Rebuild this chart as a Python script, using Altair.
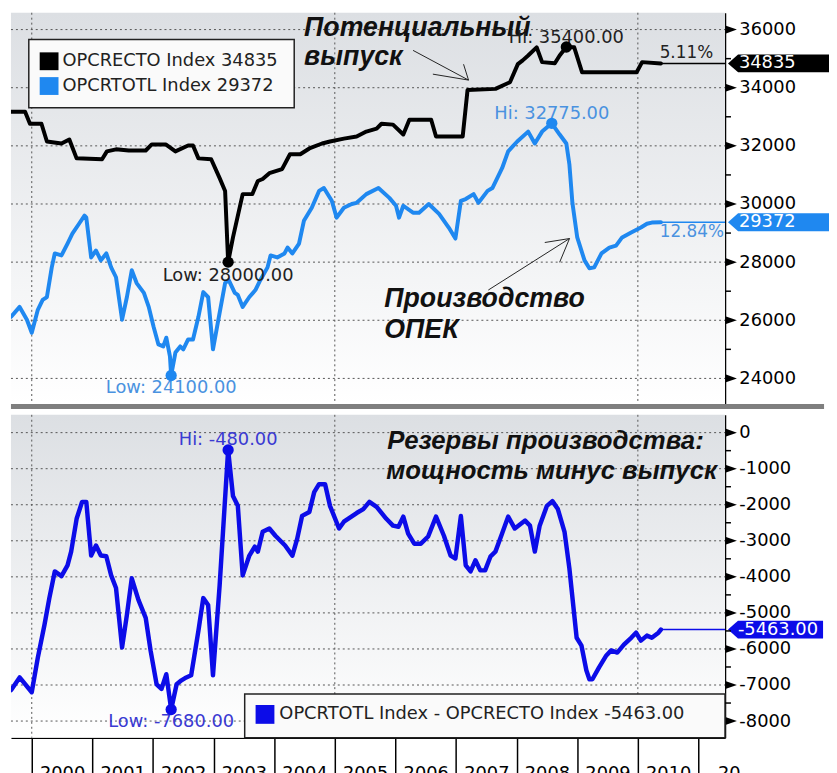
import altair as alt
import pandas as pd

# ---------------- data ----------------
cap_years = [
    1999.66, 1999.89, 1999.97, 2000.16, 2000.25, 2000.49, 2000.62, 2000.74, 2001.16, 2001.24,
    2001.39, 2001.60, 2001.88, 2001.98, 2002.21, 2002.37, 2002.58, 2002.66, 2002.75, 2002.96,
    2003.10, 2003.19, 2003.24, 2003.32, 2003.48, 2003.64, 2003.73, 2003.81, 2003.92, 2004.13,
    2004.26, 2004.43, 2004.58, 2004.79, 2004.92, 2005.15, 2005.36, 2005.52, 2005.69, 2005.77,
    2005.96, 2006.13, 2006.23, 2006.59, 2006.67, 2007.11, 2007.19, 2007.65, 2007.89, 2008.02,
    2008.10, 2008.19, 2008.33, 2008.42, 2008.63, 2008.71, 2008.82, 2008.95, 2009.08, 2009.98,
    2010.07, 2010.38]
cap_values = [
    33170, 33170, 32760, 32760, 32150, 32080, 32220, 31570, 31540, 31810,
    31880, 31840, 31840, 32050, 32050, 31810, 32010, 32010, 31570, 31540,
    30890, 30450, 28000, 28850, 30340, 30340, 30790, 30860, 31060, 31200,
    31710, 31710, 31910, 32080, 32150, 32250, 32320, 32490, 32590, 32760,
    32730, 32390, 32900, 32900, 32320, 32320, 33920, 33960, 34190, 34810,
    34940, 35110, 35390, 34880, 34840, 35110, 35400, 35390, 34530, 34530,
    34880, 34835]

prod_years = [
    1999.66, 1999.80, 1999.92, 2000.00, 2000.10, 2000.18, 2000.25, 2000.33, 2000.38, 2000.49,
    2000.59, 2000.67, 2000.78, 2000.87, 2000.90, 2000.98, 2001.06, 2001.14, 2001.23, 2001.31,
    2001.39, 2001.49, 2001.57, 2001.65, 2001.73, 2001.85, 2001.93, 2002.01, 2002.09, 2002.17,
    2002.22, 2002.28, 2002.30, 2002.37, 2002.45, 2002.50, 2002.58, 2002.66, 2002.75, 2002.83,
    2002.91, 2002.99, 2003.07, 2003.19, 2003.25, 2003.35, 2003.40, 2003.48, 2003.59, 2003.69,
    2003.77, 2003.89, 2003.94, 2004.05, 2004.17, 2004.22, 2004.30, 2004.41, 2004.49, 2004.62,
    2004.74, 2004.82, 2004.95, 2005.03, 2005.15, 2005.28, 2005.36, 2005.52, 2005.72, 2005.90,
    2006.01, 2006.06, 2006.13, 2006.29, 2006.39, 2006.55, 2006.72, 2006.88, 2006.99, 2007.08,
    2007.16, 2007.29, 2007.37, 2007.52, 2007.60, 2007.76, 2007.86, 2008.01, 2008.19, 2008.30,
    2008.42, 2008.58, 2008.71, 2008.82, 2008.87, 2008.92, 2009.00, 2009.12, 2009.20, 2009.28,
    2009.40, 2009.53, 2009.64, 2009.74, 2009.89, 2010.05, 2010.15, 2010.23, 2010.38]
prod_values = [
    26120, 26460, 26020, 25570, 26360, 26700, 26800, 27820, 28300, 28230,
    28640, 28980, 29320, 29600, 29530, 28160, 28400, 28060, 28300, 27820,
    27480, 26020, 26800, 27720, 27280, 26940, 26460, 25780, 25170, 25100,
    25400, 24760, 24100, 24890, 25100, 25000, 25340, 25340, 26120, 26970,
    26800, 25000, 25920, 27280, 27380, 26940, 26870, 26460, 26800, 27040,
    27380, 27820, 28230, 28160, 28300, 28500, 28300, 28640, 29420, 29870,
    30450, 30550, 30110, 29530, 29870, 30000, 30040, 30340, 30550, 30210,
    29940, 29530, 29940, 29700, 29700, 30000, 29660, 29190, 28810, 30110,
    30170, 30340, 30040, 30450, 30550, 31230, 31810, 32150, 32490, 32080,
    32490, 32775, 32390, 32080, 31370, 30040, 28850, 28060, 27790, 27820,
    28300, 28500, 28570, 28850, 29020, 29190, 29320, 29360, 29372]

spare_years = [
    1999.66, 1999.80, 2000.00, 2000.10, 2000.21, 2000.29, 2000.38, 2000.49, 2000.59, 2000.65,
    2000.74, 2000.83, 2000.90, 2000.98, 2001.06, 2001.14, 2001.23, 2001.31, 2001.39, 2001.49,
    2001.57, 2001.65, 2001.76, 2001.88, 2001.96, 2002.06, 2002.14, 2002.22, 2002.30, 2002.39,
    2002.47, 2002.55, 2002.63, 2002.75, 2002.83, 2002.91, 2002.99, 2003.10, 2003.24, 2003.32,
    2003.40, 2003.48, 2003.59, 2003.68, 2003.73, 2003.81, 2003.92, 2004.02, 2004.18, 2004.30,
    2004.38, 2004.46, 2004.58, 2004.66, 2004.74, 2004.84, 2004.92, 2005.07, 2005.15, 2005.36,
    2005.47, 2005.57, 2005.69, 2005.85, 2005.96, 2006.05, 2006.13, 2006.21, 2006.31, 2006.42,
    2006.54, 2006.67, 2006.80, 2006.91, 2006.99, 2007.08, 2007.16, 2007.24, 2007.32, 2007.40,
    2007.48, 2007.57, 2007.65, 2007.76, 2007.86, 2007.97, 2008.14, 2008.22, 2008.30, 2008.38,
    2008.50, 2008.59, 2008.68, 2008.79, 2008.87, 2008.99, 2009.07, 2009.15, 2009.20, 2009.25,
    2009.36, 2009.48, 2009.56, 2009.66, 2009.77, 2009.89, 2009.97, 2010.05, 2010.15, 2010.23,
    2010.34, 2010.38]
spare_values = [
    -7140, -6790, -7200, -6240, -5330, -4590, -3850, -3980, -3680, -3300,
    -2390, -1920, -1920, -3410, -3130, -3410, -3430, -3960, -4310, -5960,
    -5050, -4040, -4640, -5140, -6040, -6980, -7110, -6700, -7680, -6980,
    -6870, -6790, -6730, -5490, -4590, -4780, -6730, -4230, -480, -1760,
    -2030, -3960, -3410, -3160, -3300, -2750, -2660, -2860, -3130, -3410,
    -2940, -2310, -2200, -1650, -1430, -1430, -2030, -2660, -2470, -2230,
    -2120, -1920, -2060, -2390, -2580, -2610, -2330, -2800, -3080, -3080,
    -2880, -2330, -2860, -3410, -3490, -2310, -3680, -3850, -3540, -3820,
    -3820, -3430, -3300, -2800, -2330, -2660, -2440, -2580, -3300, -2580,
    -2030, -1900, -2120, -2750, -3760, -5690, -5910, -6590, -6840, -6840,
    -6510, -6180, -6040, -6100, -5880, -5690, -5550, -5770, -5630, -5690,
    -5550, -5463]

top_ticks = [24000, 26000, 28000, 30000, 32000, 34000, 36000]
top_minor = [25000, 27000, 29000, 31000, 33000, 35000]
bottom_ticks = [0, -1000, -2000, -3000, -4000, -5000, -6000, -7000, -8000]
bottom_minor = [-500, -1500, -2500, -3500, -4500, -5500, -6500, -7500]
year_ticks = [2000, 2001, 2002, 2003, 2004, 2005, 2006, 2007, 2008, 2009, 2010, 2011]
grid_years = [2000, 2005, 2010]

legend_top_labels = ["OPCRECTO Index 34835", "OPCRTOTL Index 29372"]
legend_bottom_label = "OPCRTOTL Index - OPCRECTO Index -5463.00"
pct_cap = "5.11%"
pct_prod = "12.84%"

# ---------------- styling ----------------
W, H1, H2 = 721, 395, 326
X_DOMAIN = [1999.657, 2011.438]
TOP_DOMAIN = [23122, 36579]
BOT_DOMAIN = [-8461, 494]
FONT = "DejaVu Sans"
ANN_FONT = "Liberation Sans"
C_BLACK = "#000000"
C_LBLUE = "#1f88f0"
C_DBLUE = "#0c0ce8"
C_LBLUE_TXT = "#4a92e0"
C_DBLUE_TXT = "#3a3ad2"
GRID = "#555555"

GRAD = alt.Gradient(
    gradient="linear", x1=0, x2=0, y1=0, y2=1,
    stops=[alt.GradientStop(color="#dcdfe3", offset=0),
           alt.GradientStop(color="#ffffff", offset=1)])

TAG_TOP = "M -1 0 L -0.8 -0.176 L 1 -0.176 L 1 0.176 L -0.8 0.176 Z"
TAG_BOT = "M -1 0 L -0.79 -0.1875 L 1 -0.1875 L 1 0.1875 L -0.79 0.1875 Z"
TRI = "M -1 -0.7 L 1 0 L -1 0.7 Z"

cap = pd.DataFrame({"year": cap_years, "v": cap_values})
prod = pd.DataFrame({"year": prod_years, "v": prod_values})
spare = pd.DataFrame({"year": spare_years, "v": spare_values})
one = pd.DataFrame({"k": [0]})


def extreme(df, kind, prefix):
    row = df.loc[df.v.idxmax()] if kind == "max" else df.loc[df.v.idxmin()]
    return pd.DataFrame({"year": [row.year], "v": [row.v],
                         "label": [f"{prefix}: {row.v:.2f}"]})


def last(df, fmt, extra=None):
    row = df.iloc[-1]
    d = {"year": [row.year], "v": [row.v], "tag": [fmt.format(row.v)]}
    if extra is not None:
        d["pct"] = [extra]
    return pd.DataFrame(d)


XS = alt.Scale(domain=X_DOMAIN, nice=False, zero=False)


def y_axis(values):
    return alt.Axis(orient="right", values=values, ticks=False, grid=False,
                    domainColor="black", domainWidth=1.5, labelFont=FONT,
                    labelFontSize=18, labelColor="black", labelPadding=14,
                    labelOverlap=False, labelExpr="datum.value + ''", title=None)


X_TOP = alt.X("year:Q", scale=XS, axis=None)
X_BOT = alt.X("year:Q", scale=XS, axis=alt.Axis(
    orient="bottom", values=year_ticks, tickSize=40, tickColor="black", tickWidth=1.5,
    domainColor="black", domainWidth=1.5, labelFont=FONT, labelFontSize=18,
    labelColor="black", labelOffset=30.6, labelPadding=-13, labelBaseline="top",
    labelAlign="center", labelExpr="datum.value == 2011 ? '20' : datum.value + ''",
    labelOverlap=False, labelFlush=False, labelBound=False, grid=False, title=None))
Y_TOP = alt.Y("v:Q", scale=alt.Scale(domain=TOP_DOMAIN, nice=False, zero=False),
              axis=y_axis(top_ticks))
Y_BOT = alt.Y("v:Q", scale=alt.Scale(domain=BOT_DOMAIN, nice=False, zero=False),
              axis=y_axis(bottom_ticks))


def rule_px(x1, y1, x2, y2, color="#222222", w=1.0):
    return alt.Chart(one).mark_rule(color=color, strokeWidth=w).encode(
        x=alt.value(x1), y=alt.value(y1), x2=alt.value(x2), y2=alt.value(y2))


def text_px(txt, x, y, size=18, color="#222222", font=FONT, bold=False, italic=False,
            align="left", baseline="middle"):
    kw = dict(text=txt, fontSize=size, color=color, font=font, align=align, baseline=baseline)
    if bold:
        kw["fontWeight"] = "bold"
    if italic:
        kw["fontStyle"] = "italic"
    return alt.Chart(one).mark_text(**kw).encode(x=alt.value(x), y=alt.value(y))


def rect_px(x1, y1, x2, y2, fill, stroke=None, sw=0):
    kw = dict(fill=fill, opacity=1)
    if stroke:
        kw.update(stroke=stroke, strokeWidth=sw)
    return alt.Chart(one).mark_rect(**kw).encode(
        x=alt.value(x1), x2=alt.value(x2), y=alt.value(y1), y2=alt.value(y2))


def panel_common(X, Y, H, ticks, minor):
    bg = alt.Chart(one).mark_rect(color=GRAD).encode(
        x=alt.value(0), x2=alt.value(W), y=alt.value(0), y2=alt.value(H))
    hgrid = alt.Chart(pd.DataFrame({"v": ticks})).mark_rule(
        color=GRID, strokeDash=[2, 3], strokeWidth=1).encode(
        x=alt.value(0), x2=alt.value(W), y=Y)
    vgrid = alt.Chart(pd.DataFrame({"year": grid_years})).mark_rule(
        color=GRID, strokeDash=[2, 3], strokeWidth=1).encode(
        x=X, y=alt.value(0), y2=alt.value(H))
    minor_t = alt.Chart(pd.DataFrame({"v": minor})).mark_rule(
        color="black", strokeWidth=1.5).encode(x=alt.value(W), x2=alt.value(W + 6), y=Y)
    major_t = alt.Chart(pd.DataFrame({"v": ticks})).mark_point(
        shape=TRI, filled=True, size=121, color="black", opacity=1).encode(
        x=alt.value(W + 6.5), y=Y)
    return [bg, hgrid, vgrid], [minor_t, major_t]


def line(df, X, Y, color, w=4):
    return alt.Chart(df).mark_line(color=color, strokeWidth=w, clip=True,
                                   strokeJoin="round", strokeCap="round").encode(x=X, y=Y)


def dot_label(df, X, Y, color, txtcolor, dy):
    d = alt.Chart(df).mark_circle(size=130, color=color, opacity=1).encode(x=X, y=Y)
    t = alt.Chart(df).mark_text(dy=dy, fontSize=18, font=FONT, color=txtcolor,
                                baseline="middle").encode(x=X, y=Y, text="label:N")
    return [t, d]


def end_tag(df, Y, X, color, path, size, cx, tx, rule_color):
    r = alt.Chart(df).mark_rule(color=rule_color, strokeWidth=1.5).encode(
        x=X, x2=alt.value(W), y=Y)
    p = alt.Chart(df).mark_point(shape=path, filled=True, size=size, color=color,
                                 opacity=1, strokeWidth=0).encode(x=alt.value(cx), y=Y)
    t = alt.Chart(df).mark_text(align="left", baseline="middle", color="white",
                                fontSize=18, font=FONT).encode(
        x=alt.value(tx), y=Y, text="tag:N")
    return r, [p, t]


# ---------------- top panel ----------------
under_t, ticks_t = panel_common(X_TOP, Y_TOP, H1, top_ticks, top_minor)
cap_last = last(cap, "{:.0f}", pct_cap)
prod_last = last(prod, "{:.0f}", pct_prod)
r_cap, tag_cap = end_tag(cap_last, Y_TOP, X_TOP, "black", TAG_TOP, 10404, W + 54, W + 14, "black")
r_prod, tag_prod = end_tag(prod_last, Y_TOP, X_TOP, C_LBLUE, TAG_TOP, 10404, W + 54, W + 14, C_LBLUE)
pct_cap_t = alt.Chart(cap_last).mark_text(align="right", baseline="middle", dy=-10,
                                          fontSize=17, font=FONT, color="#222222").encode(
    x=alt.value(W - 12), y=Y_TOP, text="pct:N")
pct_prod_t = alt.Chart(prod_last).mark_text(align="right", baseline="middle", dy=10,
                                            fontSize=17, font=FONT, color=C_LBLUE_TXT).encode(
    x=alt.value(W - 1), y=Y_TOP, text="pct:N")

top_layers = under_t + [
    # annotations
    text_px("Потенциальный", 296, 23, 27, "#111111", ANN_FONT, True, True, baseline="alphabetic"),
    text_px("выпуск", 296, 53, 27, "#111111", ANN_FONT, True, True, baseline="alphabetic"),
    text_px("Производство", 377, 297, 27, "#111111", ANN_FONT, True, True, baseline="alphabetic"),
    text_px("ОПЕК", 377, 328, 27, "#111111", ANN_FONT, True, True, baseline="alphabetic"),
    rule_px(406, 38, 462, 68), rule_px(426, 62, 462, 68), rule_px(457, 52, 462, 68),
    rule_px(482, 280, 564, 228), rule_px(539, 232, 564, 228), rule_px(554, 252, 564, 228),
    r_cap, r_prod,
    line(prod, X_TOP, Y_TOP, C_LBLUE),
    line(cap, X_TOP, Y_TOP, C_BLACK),
] + dot_label(extreme(cap, "max", "Hi"), X_TOP, Y_TOP, "black", "#222222", -9) \
  + dot_label(extreme(cap, "min", "Low"), X_TOP, Y_TOP, "black", "#222222", 14) \
  + dot_label(extreme(prod, "max", "Hi"), X_TOP, Y_TOP, C_LBLUE, C_LBLUE_TXT, -9) \
  + dot_label(extreme(prod, "min", "Low"), X_TOP, Y_TOP, C_LBLUE, C_LBLUE_TXT, 13) \
  + [pct_cap_t, pct_prod_t,
     # legend
     rect_px(18, 27, 286, 96, "#fafafa", "#222222", 1.5),
     rect_px(29, 40, 48, 58, C_BLACK),
     rect_px(29, 65, 48, 83, C_LBLUE),
     text_px(legend_top_labels[0], 52, 49, 18, "#222222"),
     text_px(legend_top_labels[1], 52, 74, 18, "#222222"),
     ] + tag_cap + tag_prod + ticks_t + [
    alt.Chart(one).mark_rule(color="#7f7f7f", strokeWidth=5).encode(
        x=alt.value(0), x2=alt.value(821), y=alt.value(H1 + 2.5)),
]
top = alt.layer(*top_layers).properties(width=W, height=H1)

# ---------------- bottom panel ----------------
under_b, ticks_b = panel_common(X_BOT, Y_BOT, H2, bottom_ticks, bottom_minor)
spare_last = last(spare, "{:.2f}")
r_sp, tag_sp = end_tag(spare_last, Y_BOT, X_BOT, C_DBLUE, TAG_BOT, 9216, W + 51, W + 13, C_DBLUE)

bottom_layers = under_b + [
    text_px("Резервы производства:", 380, 35, 26, "#111111", ANN_FONT, True, True, baseline="alphabetic"),
    text_px("мощность минус выпуск", 379, 65, 26, "#111111", ANN_FONT, True, True, baseline="alphabetic"),
    r_sp,
    line(spare, X_BOT, Y_BOT, C_DBLUE, 4.5),
] + dot_label(extreme(spare, "max", "Hi"), X_BOT, Y_BOT, C_DBLUE, C_DBLUE_TXT, -10) \
  + dot_label(extreme(spare, "min", "Low"), X_BOT, Y_BOT, C_DBLUE, C_DBLUE_TXT, 13) \
  + [rect_px(236, 282, 721, 326, "#fafafa", "#222222", 1.5),
     rect_px(247, 293, 266, 312, C_DBLUE),
     text_px(legend_bottom_label, 271, 302, 18, "#222222"),
     ] + tag_sp + ticks_b
bottom = alt.layer(*bottom_layers).properties(width=W, height=H2)

chart = alt.vconcat(top, bottom, spacing=5).resolve_scale(
    x="independent", y="independent").properties(
    padding={"left": 0, "top": 0, "right": 0, "bottom": 0},
    background="white").configure_view(strokeWidth=0)

chart.save("out.html", embed_options={"renderer": "svg", "actions": False})
